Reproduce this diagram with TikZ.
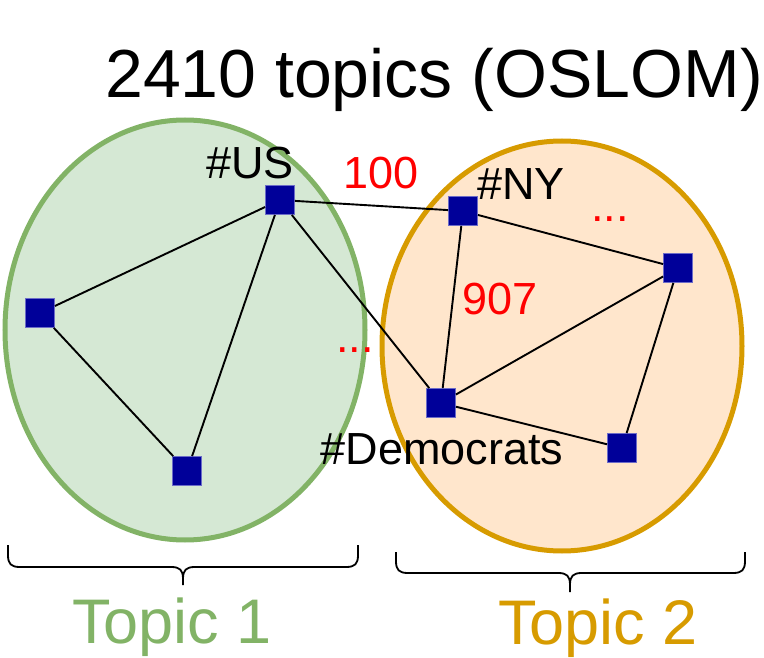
\documentclass[tikz,border=0pt]{standalone}
\usepackage{fontspec}
\setmainfont{Liberation Sans}
\definecolor{gfill}{HTML}{D5E8D4}
\definecolor{gline}{HTML}{82B366}
\definecolor{ofill}{HTML}{FFE6CC}
\definecolor{oline}{HTML}{D79B00}
\definecolor{nfill}{HTML}{000099}
\definecolor{nline}{HTML}{6C6CC8}
\begin{document}
\begin{tikzpicture}[x=1pt,y=-1pt,
  vert/.style={rectangle,fill=nfill,draw=nline,line width=0.8pt,minimum size=29pt,inner sep=0pt},
  edge/.style={draw=black,line width=1.9pt},
  lbl/.style={font=\fontsize{45}{54}\selectfont,inner sep=0pt,anchor=base},
  num/.style={lbl,text=red},
  brace/.style={draw=black,line width=1.8pt},
  topic/.style={font=\fontsize{63}{75}\selectfont,inner sep=0pt,anchor=base}]
\useasboundingbox (0,0) rectangle (764,658);
% ellipses
\path[fill=gfill,draw=gline,line width=5pt] (185,330) ellipse [x radius=180,y radius=210];
\path[fill=ofill,draw=oline,line width=5pt] (562,346) ellipse [x radius=180,y radius=205];
% title
\node[font=\fontsize{68}{80}\selectfont,inner sep=0pt,anchor=base] (title) at (434,98) {2410 topics (OSLOM)};
% vertices
\node[vert] (us) at (280,200) {};
\node[vert] (l) at (40,313) {};
\node[vert] (b) at (187,471) {};
\node[vert] (ny) at (463,211) {};
\node[vert] (r) at (678,268) {};
\node[vert] (dem) at (441,403) {};
\node[vert] (br) at (622,448) {};
% edges
\draw[edge] (us) -- (l);
\draw[edge] (us) -- (b);
\draw[edge] (l) -- (b);
\draw[edge] (us) -- (ny);
\draw[edge] (us) -- (dem);
\draw[edge] (ny) -- (dem);
\draw[edge] (ny) -- (r);
\draw[edge] (r) -- (dem);
\draw[edge] (r) -- (br);
\draw[edge] (dem) -- (br);
% labels
\node[lbl] (lus) at (250,179) {\#US};
\node[num] (l100) at (381,189) {100};
\node[lbl] (lny) at (521,200) {\#NY};
\node[num] (dots1) at (610,222) {...};
\node[num] (l907) at (500,314) {907};
\node[num] (dots2) at (355,352) {...};
\node[lbl] (ldem) at (442,464) {\#Democrats};
% braces
\draw[brace] (8,545) -- (8,555) .. controls (8,564) and (11,567) .. (20,567) -- (171,567) .. controls (180,567) and (183,570) .. (183,579) -- (183,585);
\draw[brace] (358,545) -- (358,555) .. controls (358,564) and (355,567) .. (346,567) -- (195,567) .. controls (186,567) and (183,570) .. (183,579);
\draw[brace] (396,552) -- (396,561) .. controls (396,570) and (399,573) .. (408,573) -- (558,573) .. controls (567,573) and (570,576) .. (570,585) -- (570,592);
\draw[brace] (745,552) -- (745,561) .. controls (745,570) and (742,573) .. (733,573) -- (582,573) .. controls (573,573) and (570,576) .. (570,585);
% topic labels
\node[topic,text=gline] (t1) at (172,643) {Topic 1};
\node[topic,text=oline] (t2) at (598,644) {Topic 2};
\end{tikzpicture}
\end{document}
